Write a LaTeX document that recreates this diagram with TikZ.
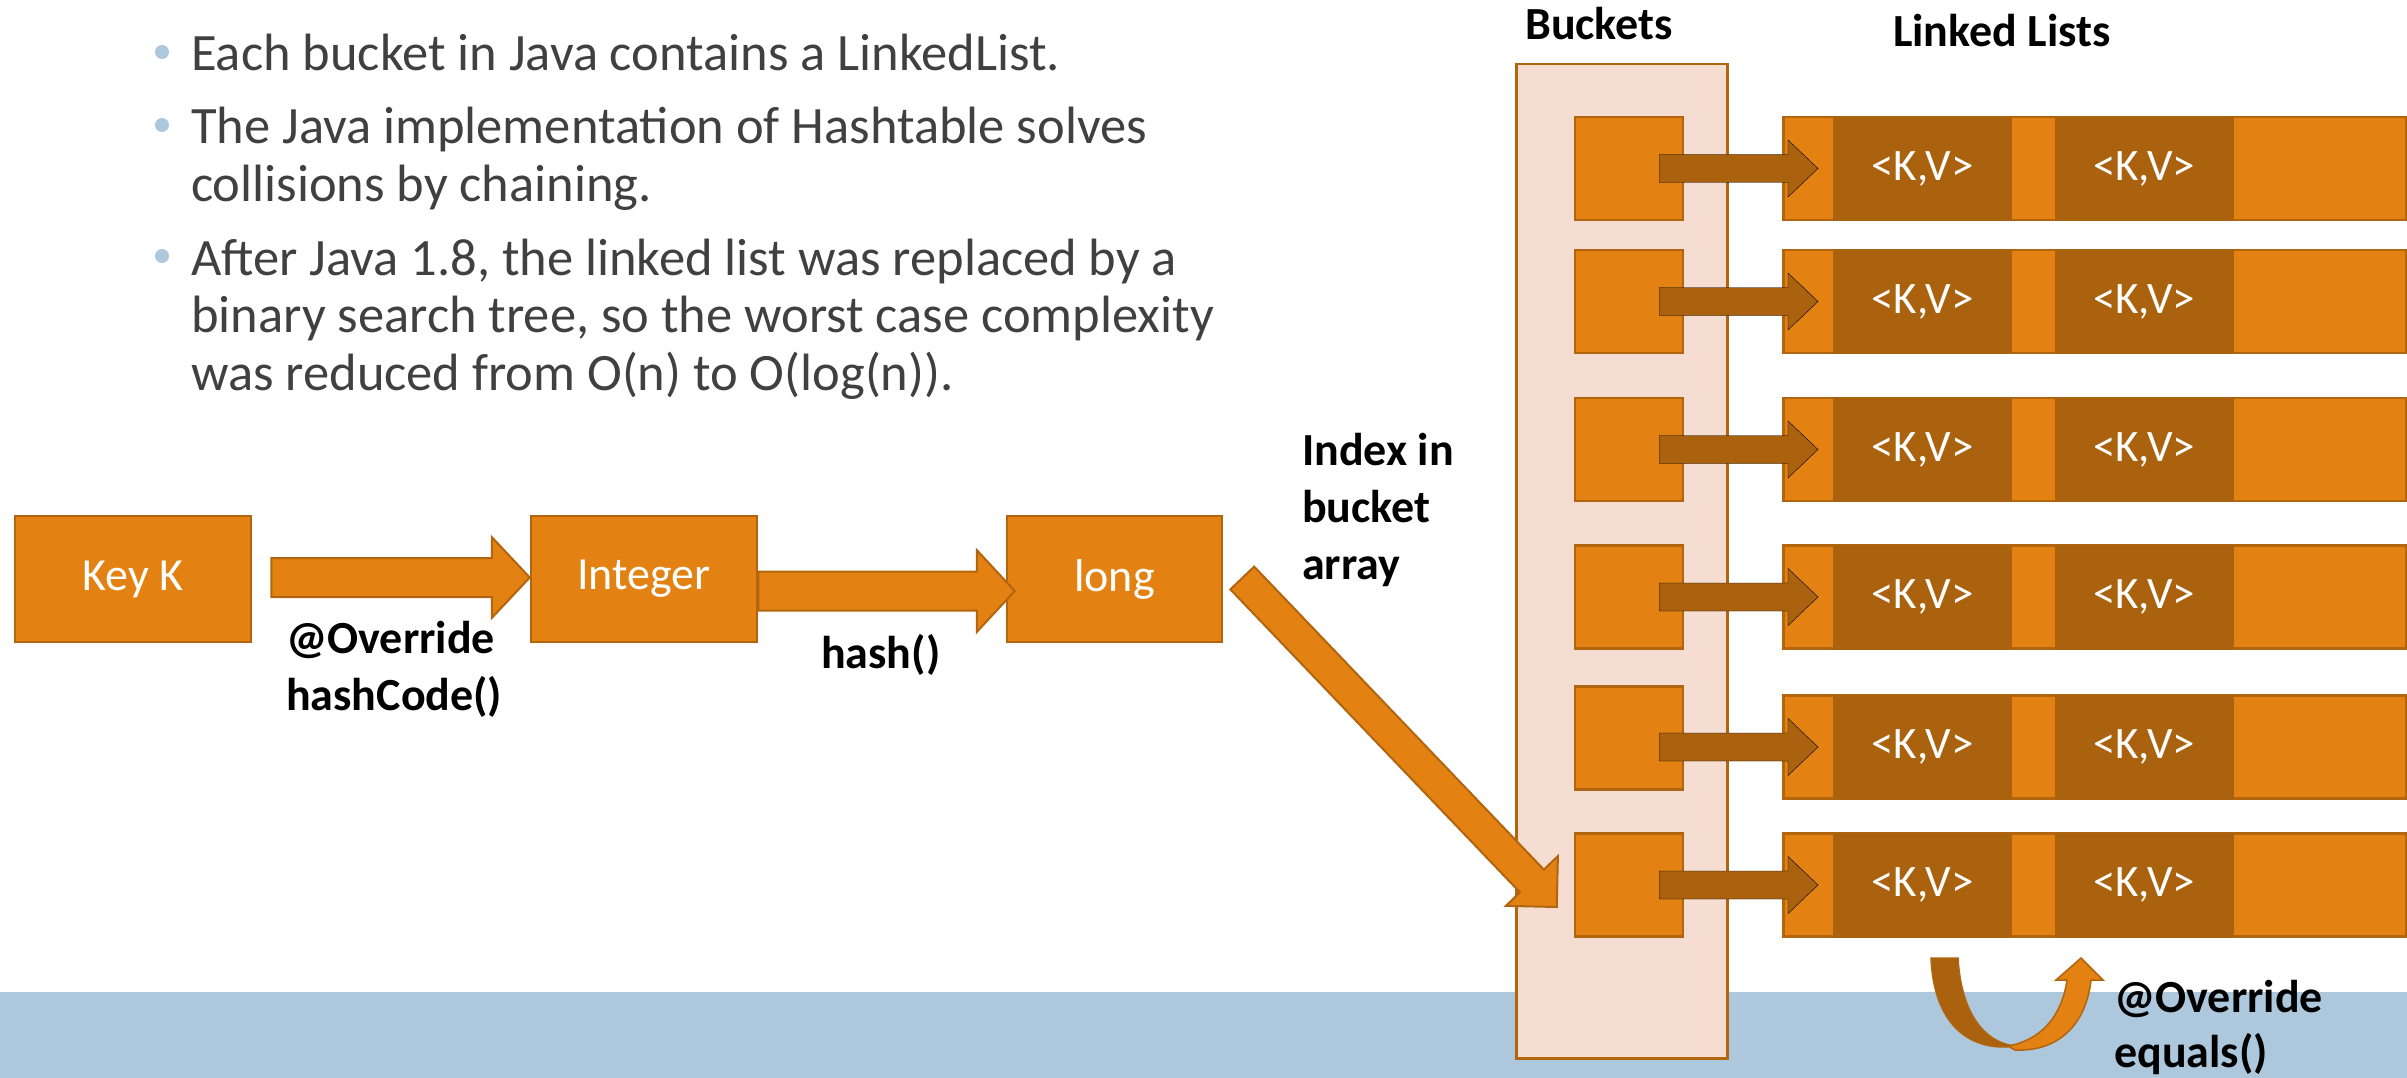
\documentclass[tikz,border=0pt]{standalone}
\usepackage{fontspec}
\setmainfont{Carlito}
\usetikzlibrary{calc}

\definecolor{boxorange}{RGB}{227,130,18}
\definecolor{kvbrown}{RGB}{170,98,15}
\definecolor{edgebrown}{RGB}{176,101,14}
\definecolor{bucketpink}{RGB}{246,221,210}
\definecolor{bandblue}{RGB}{173,199,220}
\definecolor{bodygrey}{RGB}{64,64,64}

% block arrow: [style]{tail}{tip}{shaft half width}{head half width}{head length}
\newcommand{\blockarrow}[6][fatarrow]{%
  \coordinate (ba-neck) at ($(#3)!#6!(#2)$);
  \filldraw[#1] ($(#2)!#4!90:(#3)$) -- ($(ba-neck)!#4!90:(#3)$)
    -- ($(ba-neck)!#5!90:(#3)$) -- (#3)
    -- ($(ba-neck)!#5!-90:(#3)$) -- ($(ba-neck)!#4!-90:(#3)$)
    -- ($(#2)!#4!-90:(#3)$) -- cycle;}

\begin{document}
\begin{tikzpicture}[x=1pt,y=-1pt,
  box/.style={rectangle,draw=edgebrown,line width=2.5pt,fill=boxorange,inner sep=0pt,
              text=white,font=\fontsize{46}{55}\selectfont},
  cell/.style={rectangle,fill=kvbrown,inner sep=0pt,minimum width=179pt,minimum height=105pt,
               text=white,font=\fontsize{45}{54}\selectfont},
  fatarrow/.style={draw=edgebrown,line width=2pt,fill=boxorange},
  thinarrow/.style={fill=kvbrown},
  % multi-line notes sit on the baseline of their last line
  boldnote/.style={inner sep=0pt,anchor=base west,align=left,font=\fontsize{46}{57}\selectfont\bfseries},
  bullettext/.style={inner sep=0pt,anchor=base west,align=left,text=bodygrey,
                     font=\fontsize{52.5}{57.5}\selectfont}]
\useasboundingbox (0,0) rectangle (2407,1078);

\fill[bandblue] (0,992) rectangle (2407,1078);

% bullet points
\node[bullettext] (point1) at (191,71) {Each bucket in Java contains a LinkedList.};
\node[bullettext] (point2) at (191,201.5) {The Java implementation of Hashtable solves\\collisions by chaining.};
\node[bullettext] (point3) at (191,390) {After Java 1.8, the linked list was replaced by a\\binary search tree, so the worst case complexity\\was reduced from O(n) to O(log(n)).};
\fill[bandblue] ($(point1.base west)+(-29,-19)$) circle (7);
\fill[bandblue] ($(point2.base west)+(-29,-76.5)$) circle (7);
\fill[bandblue] ($(point3.base west)+(-29,-134)$) circle (7);

% key -> hashCode -> hash
\node[box,minimum width=236pt,minimum height=126pt] (keyk) at (133,579) {Key K};
\node[box,minimum width=226pt,minimum height=126pt] (integer) at (644,579) {Integer};
\node[box,minimum width=215pt,minimum height=126pt] (long) at (1114.5,579) {long};

\coordinate (hc-from) at ($(keyk.east)+(19,-1.5)$);
\coordinate (hc-to) at ($(integer.west)+(0,-1.5)$);
\blockarrow{hc-from}{hc-to}{19.5pt}{40.5pt}{38pt}
\coordinate (h-from) at ($(integer.east)+(0,12)$);
\coordinate (h-to) at ($(long.west)+(9,12)$);
\blockarrow{h-from}{h-to}{19.5pt}{41pt}{38pt}

\node[boldnote] (overridehash) at (286,710) {@Override\\hashCode()};
\node[boldnote] (hashfn) at (821,668) {hash()};
\node[boldnote] (indexnote) at (1302,579) {Index in\\bucket\\array};

% bucket array and the chains
\node[boldnote] (bucketstitle) at (1525,40) {Buckets};
\node[boldnote] (liststitle) at (1893,47) {Linked Lists};
\node[draw=edgebrown,line width=2.5pt,fill=bucketpink,inner sep=0pt,anchor=north west,
      minimum width=211pt,minimum height=994pt] (bucketarray) at (1515,63) {};

\foreach \i/\yb/\yl in {1/168.5/168.5,2/301.5/301.5,3/449.5/449.5,4/597/597,5/738/747,6/885/885}{
  \node[box,minimum width=108pt,minimum height=103pt] (bucket\i) at (1629,\yb) {};
  \node[box,minimum width=623pt,minimum height=103pt,anchor=west] (list\i) at (1782,\yl) {};
  \node[cell] (kva\i) at (1922.5,\yl) {<K,V>};
  \node[cell] (kvb\i) at (2144,\yl) {<K,V>};
  \coordinate (from\i) at ($(bucket\i.east |- list\i.west)+(-25,0)$);
  \coordinate (to\i) at ($(list\i.west)+(36,0)$);
  \blockarrow[thinarrow]{from\i}{to\i}{14pt}{28.5pt}{30pt}
}

\coordinate (idx-from) at ($(long.east)+(19,-1)$);
\coordinate (idx-to) at ($(bucket6.west)+(-17,22)$);
\blockarrow{idx-from}{idx-to}{16.5pt}{36pt}{36pt}

% equals() turn under the last chain
\filldraw[draw=edgebrown,line width=1.5pt,fill=kvbrown]
  (1931,958) -- (1958,958) .. controls (1961,1010) and (1982,1042) .. (2015,1046)
  .. controls (1975,1052) and (1934,1030) .. (1931,958) -- cycle;
\filldraw[draw=edgebrown,line width=1.5pt,fill=boxorange]
  (2008,1046) .. controls (2042,1040) and (2062,1015) .. (2067,980) -- (2056,980)
  -- (2081,958) -- (2103,980) -- (2091,980)
  .. controls (2086,1025) and (2058,1052) .. (2015,1050) -- cycle;
\node[boldnote,font=\fontsize{46}{55}\selectfont\bfseries] (overrideeq) at (2114,1067) {@Override\\equals()};
\end{tikzpicture}
\end{document}
